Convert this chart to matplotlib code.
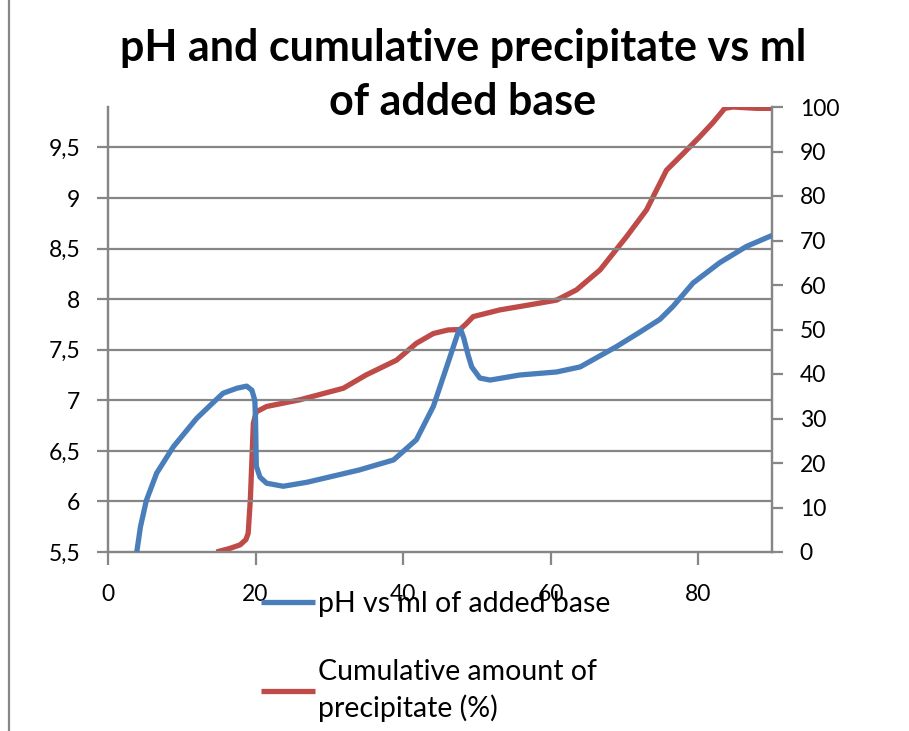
import matplotlib
matplotlib.use('Agg')
import matplotlib.pyplot as plt
from matplotlib.lines import Line2D

plt.rcParams['font.family'] = ['Lato', 'DejaVu Sans']

# pH curve (left axis)
ph_ml = [3.9, 4.4, 5.2, 6.6, 8.85, 12.0, 14.0, 15.6, 17.5, 18.8, 19.5, 19.9, 20.0, 20.1, 20.6, 21.5, 23.75,
         27.0, 30.5, 34.0, 38.7, 41.8, 44.1, 45.9, 47.5, 47.8, 48.2, 48.8, 49.3, 50.4, 51.8, 55.8, 60.8,
         64.0, 68.9, 72.0, 74.8, 76.6, 79.3, 82.9, 86.5, 90.0]
ph_val = [5.5, 5.75, 6.01, 6.28, 6.54, 6.82, 6.96, 7.07, 7.12, 7.14, 7.10, 7.0, 6.8, 6.35, 6.24, 6.18, 6.15,
          6.19, 6.25, 6.31, 6.41, 6.61, 6.94, 7.33, 7.68, 7.70, 7.62, 7.45, 7.33, 7.22, 7.20, 7.25, 7.28,
          7.33, 7.53, 7.67, 7.80, 7.93, 8.16, 8.36, 8.52, 8.63]

# cumulative precipitate (right axis)
pr_ml = [14.7, 16.5, 17.9, 18.7, 19.0, 19.3, 19.7, 20.1, 21.5, 26.0, 31.9, 35.0, 39.1, 41.8, 44.1, 46.1,
         47.7, 48.5, 49.5, 53.1, 57.0, 60.8, 63.5, 66.7, 70.3, 73.0, 75.7, 78.0, 80.2, 82.0, 83.6, 84.7,
         87.9, 90.0]
pr_val = [0, 0.8, 1.6, 2.8, 4.2, 12.0, 28.9, 31.5, 32.7, 34.2, 36.8, 39.8, 43.1, 46.9, 49.1, 49.9,
          50.0, 51.2, 52.9, 54.4, 55.5, 56.6, 58.9, 63.4, 70.9, 76.9, 85.8, 89.6, 93.3, 96.5, 99.7, 100,
          99.7, 99.7]

x_ticks = [0, 20, 40, 60, 80]
ph_ticks = [5.5, 6, 6.5, 7, 7.5, 8, 8.5, 9, 9.5]
ph_tick_labels = ['5,5', '6', '6,5', '7', '7,5', '8', '8,5', '9', '9,5']
pr_ticks = [0, 10, 20, 30, 40, 50, 60, 70, 80, 90, 100]

blue = '#4A7EBB'
red = '#BE4B48'
grey = '#868686'

fig = plt.figure(figsize=(9.09, 7.31), dpi=100)
ax = fig.add_axes([108/909, 1 - 552/731, (772-108)/909, (552-107)/731])
ax2 = ax.twinx()

l1, = ax.plot(ph_ml, ph_val, color=blue, lw=3.8, solid_joinstyle='round', solid_capstyle='butt', zorder=3)
l2, = ax2.plot(pr_ml, pr_val, color=red, lw=3.8, solid_joinstyle='round', solid_capstyle='butt', zorder=3)
ax.set_zorder(2)
ax.patch.set_visible(False)
ax2.set_zorder(1)

ax.set_xlim(0, 90)
ax.set_ylim(5.5, 9.9)
ax2.set_ylim(0, 100)

ax.set_xticks(x_ticks)
ax.set_yticks(ph_ticks)
ax.set_yticklabels(ph_tick_labels)
ax2.set_yticks(pr_ticks)
for y in ph_ticks[1:]:
    ax.axhline(y, color=grey, lw=1.6, zorder=1)

for a in (ax, ax2):
    a.spines['top'].set_visible(False)
    for s in ('left', 'right', 'bottom'):
        a.spines[s].set_color(grey)
        a.spines[s].set_linewidth(1.6)
ax.tick_params(axis='both', direction='out', length=8, width=1.6, color=grey, labelsize=16.5)
ax.tick_params(axis='y', pad=12)
ax.tick_params(axis='x', pad=14, length=9)
ax2.tick_params(axis='y', direction='out', length=8, width=1.6, color=grey, labelsize=16.5, pad=12)

fig.text(463/909, 1 - 28/731, 'pH and cumulative precipitate vs ml\nof added base',
         ha='center', va='top', fontsize=31, fontweight='bold', linespacing=1.42)

leg = fig.legend([l1, l2], ['pH vs ml of added base', 'Cumulative amount of\nprecipitate (%)'],
                 loc='upper left', bbox_to_anchor=(247/909, 1 - 577/731), frameon=False,
                 fontsize=20.5, handlelength=1.9, handletextpad=0.1, labelspacing=1.45, borderpad=0)
for t in leg.get_texts():
    t.set_linespacing(1.45)

# outer chart border on the left
fig.add_artist(Line2D([9/909, 9/909], [0, 1], transform=fig.transFigure, color=grey, lw=1.6))

fig.savefig('out.png', dpi=100)
